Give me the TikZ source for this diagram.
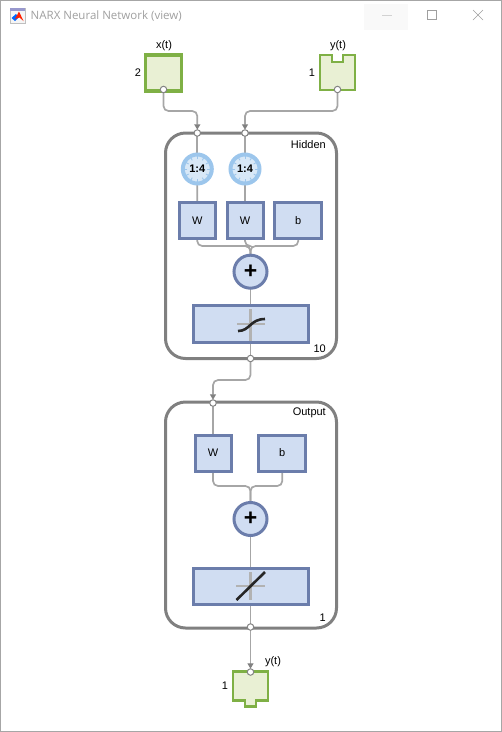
\documentclass[tikz,border=0pt]{standalone}
\usepackage{fontspec}
\setmainfont{Liberation Sans}
\newfontfamily\titlefont{Open Sans}
\usetikzlibrary{arrows.meta,backgrounds}
\definecolor{boxfill}{HTML}{D0DDF2}
\definecolor{boxline}{HTML}{6B7DAB}
\definecolor{portfill}{HTML}{E9F0D4}
\definecolor{portline}{HTML}{7FB045}
\definecolor{clockring}{HTML}{9CC6EC}
\definecolor{clockface}{HTML}{D8E8F7}
\definecolor{wirecol}{HTML}{A6A6A6}
\definecolor{layercol}{HTML}{808080}
\tikzset{
    unitbox/.style={draw=boxline,fill=boxfill,line width=3pt,inner sep=0pt,outer sep=0pt,font=\fontsize{11}{13}\selectfont},
    sumnode/.style={circle,draw=boxline,fill=boxfill,line width=3pt,inner sep=0pt,outer sep=0pt,minimum size=33pt},
    layerbox/.style={draw=layercol,rounded corners=20pt,line width=3pt,inner sep=0pt,outer sep=0pt,minimum width=171pt},
    clocknode/.style={circle,draw=clockring,fill=clockface,line width=4pt,inner sep=0pt,outer sep=0pt,minimum size=29pt},
    dotnode/.style={circle,draw=wirecol!80!black,fill=white,line width=1pt,inner sep=0pt,outer sep=0pt,minimum size=6.5pt},
    portnode/.style={inner sep=0pt,outer sep=0pt},
    portdraw/.style={draw=portline,fill=portfill,line width=2.6pt},
    wire/.style={draw=wirecol,line width=1.7pt,rounded corners=5pt},
    arrowwire/.style={wire,-{Triangle[length=5.5pt,width=6pt,fill=gray,color=gray]}},
    txt/.style={inner sep=0pt,font=\fontsize{11}{13}\selectfont},
    plussign/.style={inner sep=0pt,font=\bfseries\fontsize{23}{23}\selectfont},
    crossline/.style={draw=gray!60,line width=2.8pt},
    curveline/.style={draw=black!85,line width=2.6pt},
}
\begin{document}
\begin{tikzpicture}[x=1pt,y=-1pt]
    \useasboundingbox (0,0) rectangle (502,732);

    % window title bar
    \node[font=\titlefont\fontsize{11.5}{14}\selectfont,text=gray!75,anchor=west,inner sep=0pt] (title) at (30.5,16) {NARX Neural Network (view)};
    \draw[gray!50,fill=gray!8] (10,8) rectangle (25,23);
    \fill[blue!35!gray!60] (10,8) rectangle (25,10.5);
    \fill[blue!60!cyan] (11.5,18) -- (16,14) -- (19,17) -- (15,21) -- cycle;
    \fill[red!75!orange] (15,19) -- (19,11.5) -- (23.5,21) -- (19.5,17.5) -- cycle;
    \fill[gray!5] (364,4) rectangle (408,30);
    \draw[gray!35] (382,15.5) -- (392,15.5);
    \draw[gray!75] (427.5,10.5) rectangle (436.5,19.5);
    \draw[gray!75] (473,10) -- (483,20) (483,10) -- (473,20);

    % inputs
    \node[portnode,portdraw,line width=3.2pt,minimum width=36pt,minimum height=36pt] (xin) at (163.5,73) {};
    \node[portnode,minimum width=35pt,minimum height=35pt] (yin) at (337.5,72.5) {};
    \draw[portdraw] (yin.north west) -- ++(12,0) -- ++(0,7) -- ++(11,0) -- ++(0,-7) -- (yin.north east) -- (yin.south east) -- (yin.south west) -- cycle;
    \node[txt] (xname) at (164,45.5) {x(t)};
    \node[txt] (yname) at (338,45.5) {y(t)};
    \node[txt] (xsize) at (138,73) {2};
    \node[txt] (ysize) at (312,73) {1};
    \node[dotnode] (xdot) at (163.5,89.5) {};
    \node[dotnode] (ydot) at (337.5,89.5) {};

    % hidden layer
    \node[layerbox,minimum height=225.5pt] (hidden) at (251,245.75) {};
    \node[txt,anchor=east] (hiddenname) at (326,144.5) {Hidden};
    \node[txt,anchor=east] (hiddensize) at (326,349) {10};
    \node[dotnode] (hdotA) at (197.3,133) {};
    \node[dotnode] (hdotB) at (245,133) {};
    \node[dotnode] (hdotout) at (250.5,358.5) {};
    \foreach \c/\cx in {clockA/197.3,clockB/245} {
        \node[clocknode] (\c) at (\cx,169) {};
        \foreach \a in {0,30,...,330} {
            \draw[clockring,line width=0.9pt] (\c) ++(\a:10) -- ++(\a:3);
        }
        \node[font=\bfseries\fontsize{11}{13}\selectfont,inner sep=0pt] (\c text) at (\c) {1:4};
    }
    \node[unitbox,minimum width=36pt,minimum height=36pt] (wA) at (197.2,220.5) {W};
    \node[unitbox,minimum width=36pt,minimum height=36pt] (wB) at (245,220.5) {W};
    \node[unitbox,minimum width=47pt,minimum height=36pt] (bias) at (298.3,220.5) {b};
    \node[sumnode] (sumH) at (250.5,271.7) {};
    \node[plussign] (plusH) at (sumH) {+};
    \node[unitbox,minimum width=115pt,minimum height=37pt] (tansig) at (250.5,323.7) {};
    \draw[crossline] (237,324) -- (265,324) (250.5,309) -- (250.5,341);
    \draw[curveline] (238,331) .. controls (250,331) and (250,319) .. (265,319);

    % output layer
    \node[layerbox,minimum height=226pt] (output) at (251,515) {};
    \node[txt,anchor=east] (outputname) at (326,413) {Output};
    \node[txt,anchor=east] (outputsize) at (326,618) {1};
    \node[dotnode] (odot) at (213,403) {};
    \node[dotnode] (odotout) at (250.5,627) {};
    \node[unitbox,minimum width=36pt,minimum height=36pt] (wC) at (213,453) {W};
    \node[unitbox,minimum width=47pt,minimum height=36pt] (biasC) at (282.3,453) {b};
    \node[sumnode] (sumO) at (250.5,519) {};
    \node[plussign] (plusO) at (sumO) {+};
    \node[unitbox,minimum width=115pt,minimum height=36pt] (purelin) at (250.5,586) {};
    \draw[crossline] (236,586) -- (265,586) (250.5,572) -- (250.5,600);
    \draw[curveline] (236.5,600) -- (265,572);

    % output port
    \node[portnode,minimum width=35pt,minimum height=28.5pt] (yout) at (250.5,686) {};
    \draw[portdraw] (yout.north west) -- (yout.north east) -- (yout.south east) -- ++(-12,0) -- ++(0,6) -- ++(-11,0) -- ++(0,-6) -- (yout.south west) -- cycle;
    \node[dotnode] (ydotout) at (250.5,672) {};
    \node[txt] (youtname) at (273,661.5) {y(t)};
    \node[txt] (youtsize) at (225,686) {1};

    \coordinate (xbend) at (197.3,111);
    \coordinate (ybend) at (245,111);
    \coordinate (hbendA) at (250.5,380);
    \coordinate (hbendB) at (213,380);
    \coordinate (hmerge) at (250.5,246);
    \coordinate (omerge) at (250.5,486);

    \begin{scope}[on background layer]
        \draw[gray!70,line width=1.5pt] (0.5,0.5) rectangle (501.25,731.25);
        \draw[arrowwire] (xdot) |- (xbend) -- (hdotA.north);
        \draw[arrowwire] (ydot) |- (ybend) -- (hdotB.north);
        \draw[wire] (hdotA) -- (clockA);
        \draw[wire] (hdotB) -- (clockB);
        \draw[wire] (clockA) -- (wA);
        \draw[wire] (clockB) -- (wB);
        \draw[wire] (wA.south) |- (hmerge) -- (sumH.north);
        \draw[wire] (wB.south) |- (hmerge) -- (sumH.north);
        \draw[wire] (bias.south) |- (hmerge) -- (sumH.north);
        \draw[wire] (sumH) -- (tansig);
        \draw[wire] (tansig) -- (hdotout);
        \draw[arrowwire] (hdotout) -- (hbendA) -- (hbendB) -- (odot.north);
        \draw[wire] (odot) -- (wC);
        \draw[wire] (wC.south) |- (omerge) -- (sumO.north);
        \draw[wire] (biasC.south) |- (omerge) -- (sumO.north);
        \draw[wire] (sumO) -- (purelin);
        \draw[wire] (purelin) -- (odotout);
        \draw[arrowwire] (odotout) -- (ydotout.north);
    \end{scope}
\end{tikzpicture}
\end{document}
